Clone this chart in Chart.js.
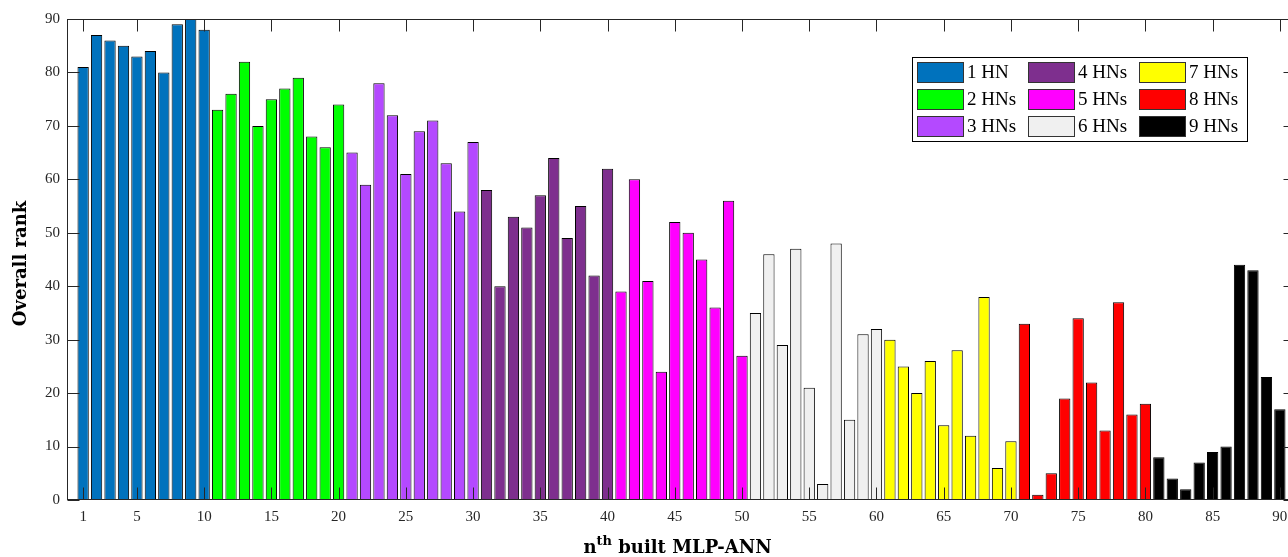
<!DOCTYPE html>
<html>
<head>
<meta charset="utf-8">
<title>Overall rank of built MLP-ANNs</title>
<script src="https://cdn.jsdelivr.net/npm/chart.js@4.4.1/dist/chart.umd.min.js"></script>
<style>
  html, body { margin: 0; padding: 0; background: #fff; overflow: hidden; }
  #wrap { width: 1300px; height: 557px; }
</style>
</head>
<body>
<div id="wrap"><canvas id="rank-chart" width="1300" height="557"></canvas></div>
<script>
(function () {
  'use strict';

  // --- Datos: rango global de cada MLP-ANN, agrupado por nº de neuronas ocultas ---
  const groupLabels = ['1 HN', '2 HNs', '3 HNs', '4 HNs', '5 HNs', '6 HNs', '7 HNs', '8 HNs', '9 HNs'];
  const groupColors = ['#0072BD', '#00FF00', '#B449FF', '#7E2F8E', '#FF00FF', '#F0F0F0', '#FFFF00', '#FF0000', '#000000'];

  const rankHN1 = [81, 87, 86, 85, 83, 84, 80, 89, 90, 88];
  const rankHN2 = [73, 76, 82, 70, 75, 77, 79, 68, 66, 74];
  const rankHN3 = [65, 59, 78, 72, 61, 69, 71, 63, 54, 67];
  const rankHN4 = [58, 40, 53, 51, 57, 64, 49, 55, 42, 62];
  const rankHN5 = [39, 60, 41, 24, 52, 50, 45, 36, 56, 27];
  const rankHN6 = [35, 46, 29, 47, 21, 3, 48, 15, 31, 32];
  const rankHN7 = [30, 25, 20, 26, 14, 28, 12, 38, 6, 11];
  const rankHN8 = [33, 1, 5, 19, 34, 22, 13, 37, 16, 18];
  const rankHN9 = [8, 4, 2, 7, 9, 10, 44, 43, 23, 17];

  const xTickValues = [1, 5, 10, 15, 20, 25, 30, 35, 40, 45, 50, 55, 60, 65, 70, 75, 80, 85, 90];
  const yTickValues = [0, 10, 20, 30, 40, 50, 60, 70, 80, 90];

  const groupRanks = [rankHN1, rankHN2, rankHN3, rankHN4, rankHN5, rankHN6, rankHN7, rankHN8, rankHN9];

  const axisColor = '#262626';
  const serif = '"Liberation Serif", "Times New Roman", serif';
  const serifBold = '"DejaVu Serif", "Liberation Serif", serif';

  const datasets = groupRanks.map(function (ranks, g) {
    return {
      label: groupLabels[g],
      data: ranks.map(function (v, j) { return { x: g * ranks.length + j + 1, y: v }; }),
      backgroundColor: groupColors[g],
      borderColor: '#000000',
      borderWidth: 1,
      borderSkipped: false,
      grouped: false,
      categoryPercentage: 1,
      barPercentage: 0.84
    };
  });

  // --- Marco con marcas hacia dentro (estilo MATLAB) ---
  const framePlugin = {
    id: 'frame',
    afterDatasetsDraw: function (chart) {
      const ctx = chart.ctx;
      const a = chart.chartArea;
      const L = Math.round(a.left) + 0.5, R = Math.round(a.right) - 0.5;
      const T = Math.round(a.top) + 0.5, B = Math.round(a.bottom) - 0.5;
      const len = 12;
      ctx.save();
      ctx.strokeStyle = axisColor;
      ctx.lineWidth = 1;
      ctx.beginPath();
      chart.scales.x.ticks.forEach(function (t) {
        const px = Math.round(chart.scales.x.getPixelForValue(t.value)) + 0.5;
        ctx.moveTo(px, B); ctx.lineTo(px, B - len);
        ctx.moveTo(px, T); ctx.lineTo(px, T + len);
      });
      chart.scales.y.ticks.forEach(function (t) {
        const py = Math.round(chart.scales.y.getPixelForValue(t.value)) + 0.5;
        ctx.moveTo(L, py); ctx.lineTo(L + len, py);
        ctx.moveTo(R, py); ctx.lineTo(R - len, py);
      });
      ctx.stroke();
      ctx.strokeRect(L, T, R - L, B - T);
      ctx.restore();
    }
  };

  // --- Títulos de ejes (con superíndice) ---
  const titlesPlugin = {
    id: 'axisTitles',
    afterDraw: function (chart) {
      const ctx = chart.ctx;
      const a = chart.chartArea;
      ctx.save();
      ctx.fillStyle = '#000';
      ctx.font = 'bold 18px ' + serifBold;
      ctx.textAlign = 'center';
      ctx.textBaseline = 'middle';
      ctx.translate(21, (a.top + a.bottom) / 2 + 4);
      ctx.rotate(-Math.PI / 2);
      ctx.fillText('Overall rank', 0, 0);
      ctx.restore();

      ctx.save();
      ctx.fillStyle = '#000';
      ctx.textBaseline = 'alphabetic';
      ctx.textAlign = 'left';
      const big = 'bold 18px ' + serifBold;
      const small = 'bold 13px ' + serifBold;
      ctx.font = big;
      const wN = ctx.measureText('n').width;
      const wRest = ctx.measureText(' built MLP-ANN').width;
      ctx.font = small;
      const wTh = ctx.measureText('th').width;
      let x = (a.left + a.right) / 2 - (wN + wTh + wRest) / 2 - 4;
      const base = 553;
      ctx.font = big;
      ctx.fillText('n', x, base); x += wN;
      ctx.font = small;
      ctx.fillText('th', x, base - 8); x += wTh;
      ctx.font = big;
      ctx.fillText(' built MLP-ANN', x, base);
      ctx.restore();
    }
  };

  // --- Leyenda en 3 columnas (orden por columnas) ---
  const legendPlugin = {
    id: 'columnLegend',
    afterDraw: function (chart, args, opts) {
      const ctx = chart.ctx;
      ctx.save();
      ctx.fillStyle = '#fff';
      ctx.fillRect(opts.x, opts.y, opts.w, opts.h);
      ctx.strokeStyle = '#000';
      ctx.lineWidth = 1;
      ctx.strokeRect(opts.x + 0.5, opts.y + 0.5, opts.w, opts.h);
      ctx.font = '19px ' + serif;
      ctx.textBaseline = 'middle';
      ctx.textAlign = 'left';
      chart.data.datasets.forEach(function (ds, i) {
        const col = Math.floor(i / 3), row = i % 3;
        const sx = opts.x + 5 + col * opts.colStep;
        const sy = opts.y + 5 + row * opts.rowStep;
        ctx.fillStyle = ds.backgroundColor;
        ctx.fillRect(sx, sy, 46, 20);
        ctx.strokeStyle = '#333';
        ctx.strokeRect(sx + 0.5, sy + 0.5, 46, 20);
        ctx.fillStyle = '#000';
        ctx.fillText(ds.label, sx + 50, sy + 11);
      });
      ctx.restore();
    }
  };

  new Chart(document.getElementById('rank-chart'), {
    type: 'bar',
    data: { datasets: datasets },
    options: {
      responsive: false,
      animation: false,
      layout: { padding: { top: 19, right: 4, left: 0, bottom: 0 } },
      plugins: {
        legend: { display: false },
        tooltip: { enabled: false },
        columnLegend: { x: 912, y: 57, w: 335, h: 84, colStep: 111, rowStep: 27 }
      },
      scales: {
        x: {
          type: 'linear',
          offset: false,
          min: -0.2,
          max: 91.2,
          afterBuildTicks: function (scale) {
            scale.ticks = xTickValues.map(function (v) { return { value: v }; });
          },
          afterFit: function (scale) { scale.height = 57; },
          grid: { display: false, drawTicks: false },
          border: { display: false },
          ticks: {
            autoSkip: false,
            maxRotation: 0,
            padding: 8,
            color: axisColor,
            font: { family: serif, size: 15 },
            callback: function (v) { return String(v); }
          }
        },
        y: {
          min: 0,
          max: 90,
          afterBuildTicks: function (scale) {
            scale.ticks = yTickValues.map(function (v) { return { value: v }; });
          },
          afterFit: function (scale) { scale.width = 67; },
          grid: { display: false, drawTicks: false },
          border: { display: false },
          ticks: {
            padding: 7,
            color: axisColor,
            font: { family: serif, size: 15 }
          }
        }
      }
    },
    plugins: [framePlugin, titlesPlugin, legendPlugin]
  });
})();
</script>
</body>
</html>
